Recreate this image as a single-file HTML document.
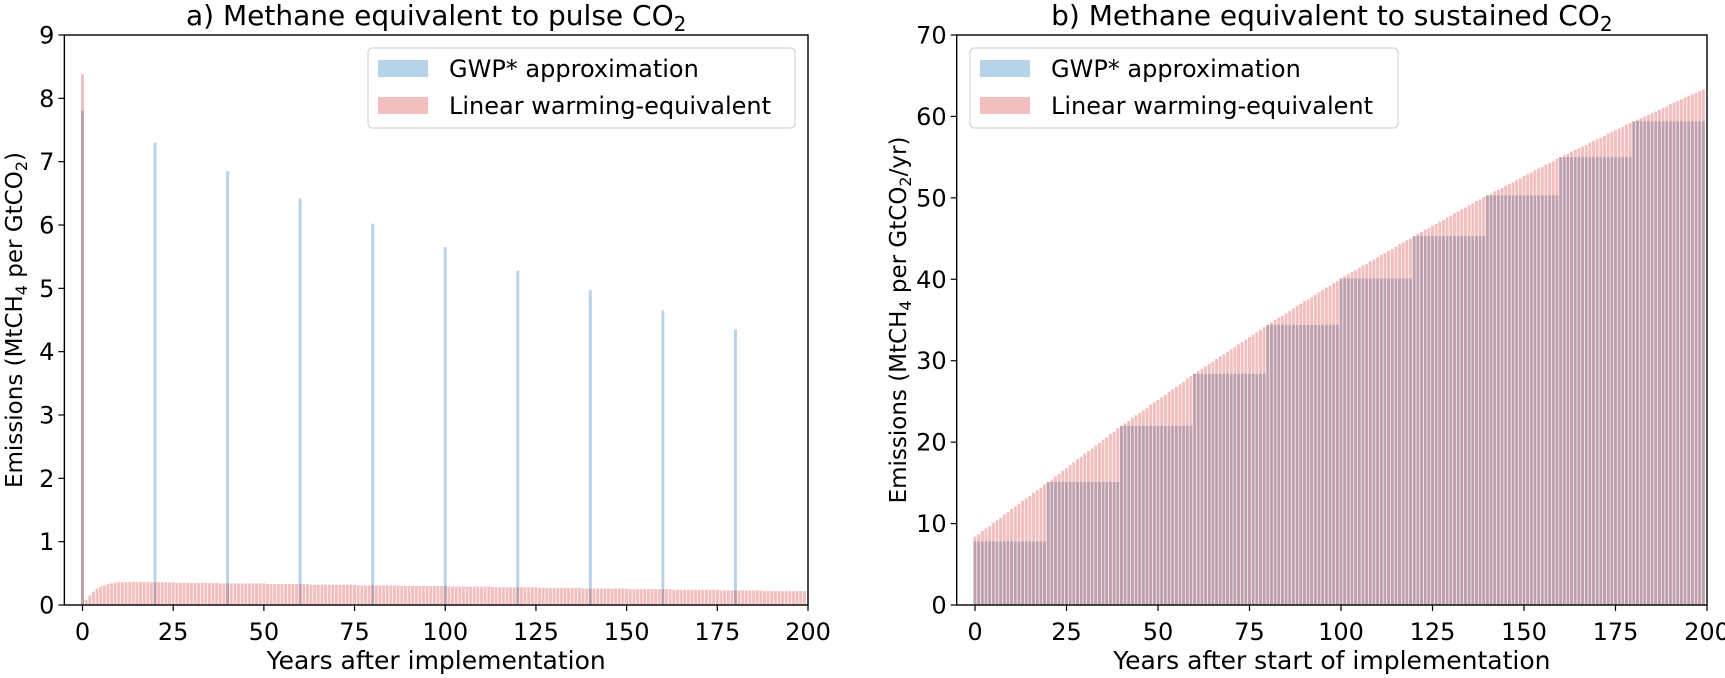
<!DOCTYPE html>
<html><head><meta charset="utf-8"><style>
html,body{margin:0;padding:0;background:#fff;}
svg{display:block;font-family:"DejaVu Sans","Liberation Sans",sans-serif;}
</style></head><body>
<svg id="chart" width="1725" height="678" viewBox="0 0 1725 678" xmlns="http://www.w3.org/2000/svg">
<g id="pa"></g>
<g id="pb"></g>
</svg>
<script>
// Panel a data
const pulseYearsA = [0,20,40,60,80,100,120,140,160,180];
const gwpPulseA = [7.8,7.3,6.85,6.42,6.02,5.65,5.28,4.97,4.65,4.35];
const linearA = [8.38,0.08,0.15,0.21,0.26,0.29,0.31,0.33,0.34,0.35,
0.36,0.36,0.36,0.36,0.36,0.36,0.36,0.36,0.36,0.36,0.36,0.36,0.36,0.36,0.36,0.36,
0.35,0.35,0.35,0.35,0.35,0.35,0.35,0.35,0.35,0.35,0.35,0.35,
0.34,0.34,0.34,0.34,0.34,0.34,0.34,0.34,0.34,0.34,0.34,0.34,0.34,
0.33,0.33,0.33,0.33,0.33,0.33,0.33,0.33,0.33,0.33,0.33,0.33,
0.32,0.32,0.32,0.32,0.32,0.32,0.32,0.32,0.32,0.32,0.32,0.32,0.32,
0.31,0.31,0.31,0.31,0.31,0.31,0.31,0.31,0.31,0.31,0.31,0.31,
0.30,0.30,0.30,0.30,0.30,0.30,0.30,0.30,0.30,0.30,0.30,0.30,0.30,
0.29,0.29,0.29,0.29,0.29,0.29,0.29,0.29,0.29,0.29,0.29,0.29,
0.28,0.28,0.28,0.28,0.28,0.28,0.28,0.28,0.28,0.28,0.28,0.28,0.28,
0.27,0.27,0.27,0.27,0.27,0.27,0.27,0.27,0.27,0.27,0.27,0.27,
0.26,0.26,0.26,0.26,0.26,0.26,0.26,0.26,0.26,0.26,0.26,0.26,0.26,
0.25,0.25,0.25,0.25,0.25,0.25,0.25,0.25,0.25,0.25,0.25,0.25,
0.24,0.24,0.24,0.24,0.24,0.24,0.24,0.24,0.24,0.24,0.24,0.24,0.24,
0.23,0.23,0.23,0.23,0.23,0.23,0.23,0.23,0.23,0.23,0.23,0.23,
0.22,0.22,0.22,0.22,0.22,0.22,0.22,0.22,0.22,0.22,0.22,0.22];
const yTicksA = [0,1,2,3,4,5,6,7,8,9];
// Panel b data
const gwpStepsB = [7.8,15.1,22.0,28.4,34.4,40.1,45.3,50.3,55.0,59.4];
const linearB = [8.4,8.7,9.1,9.4,9.7,10.1,10.4,10.7,11.1,11.4,11.8,12.1,12.4,12.8,13.1,13.4,13.8,14.1,14.4,14.8,
15.1,15.4,15.8,16.1,16.5,16.8,17.2,17.5,17.9,18.2,18.6,18.9,19.2,19.6,19.9,20.3,20.6,21.0,21.3,21.7,
22.0,22.3,22.6,23.0,23.3,23.6,23.9,24.2,24.6,24.9,25.2,25.5,25.8,26.2,26.5,26.8,27.1,27.4,27.8,28.1,
28.4,28.7,29.0,29.3,29.6,29.9,30.2,30.5,30.8,31.1,31.4,31.7,32.0,32.3,32.6,32.9,33.2,33.5,33.8,34.1,
34.4,34.7,35.0,35.3,35.5,35.8,36.1,36.4,36.7,37.0,37.3,37.5,37.8,38.1,38.4,38.7,39.0,39.2,39.5,39.8,
40.1,40.4,40.6,40.9,41.1,41.4,41.7,41.9,42.2,42.4,42.7,43.0,43.2,43.5,43.7,44.0,44.3,44.5,44.8,45.0,
45.3,45.6,45.8,46.1,46.3,46.6,46.8,47.1,47.3,47.6,47.8,48.1,48.3,48.6,48.8,49.1,49.3,49.6,49.8,50.1,
50.3,50.5,50.8,51.0,51.2,51.5,51.7,51.9,52.2,52.4,52.7,52.9,53.1,53.4,53.6,53.8,54.1,54.3,54.5,54.8,
55.0,55.2,55.4,55.7,55.9,56.1,56.3,56.5,56.8,57.0,57.2,57.4,57.6,57.9,58.1,58.3,58.5,58.7,59.0,59.2,
59.4,59.6,59.8,60.0,60.2,60.4,60.6,60.8,61.0,61.2,61.5,61.7,61.9,62.1,62.3,62.5,62.7,62.9,63.1,63.3];
const yTicksB = [0,10,20,30,40,50,60,70];
const xTicks = [0,25,50,75,100,125,150,175,200];

const NS="http://www.w3.org/2000/svg";
function mk(parent,tag,attrs,text){const e=document.createElementNS(NS,tag);for(const k in attrs)e.setAttribute(k,attrs[k]);if(text!==undefined)e.textContent=text;parent.appendChild(e);return e;}
const BLUE="rgba(31,119,180,0.32)", RED="rgba(214,39,40,0.3)";
const TOP=35,BOT=605;

function panel(g,o){
  const xs=v=>o.x0+(v)*(o.x200-o.x0)/200;
  const ys=v=>BOT-(v/o.ymax)*(BOT-TOP);
  const left=xs(-5), right=xs(200);
  const bars=mk(g,'g',{});
  
  
  o.blue.forEach(([yr,v])=>{
    const r=mk(bars,'rect',{x:xs(yr-0.4),y:ys(v),width:xs(0.8)-xs(0),height:BOT-ys(v),fill:BLUE});
    
    
  });
  o.red.forEach((v,yr)=>{
    const r=mk(bars,'rect',{x:xs(yr-0.4),y:ys(v),width:xs(0.8)-xs(0),height:BOT-ys(v),fill:RED});
    
    
  });
  const fr=mk(g,'rect',{x:left,y:TOP,width:right-left,height:BOT-TOP,fill:'none',stroke:'#000','stroke-width':1.4});
  
  
  xTicks.forEach(t=>{
    const x=xs(t);
    mk(g,'line',{x1:x,x2:x,y1:BOT,y2:BOT+6,stroke:'#000','stroke-width':1.2});
    const l=mk(g,'text',{x:x,y:640,'text-anchor':'middle','font-size':24,fill:'#000'},String(t));
    
    
  });
  o.yt.forEach(t=>{
    const y=ys(t);
    mk(g,'line',{x1:left-6,x2:left,y1:y,y2:y,stroke:'#000','stroke-width':1.2});
    const l=mk(g,'text',{x:left-10,y:y+8.5,'text-anchor':'end','font-size':24,fill:'#000'},String(t));
    
    
  });
  const xl=mk(g,'text',{x:(left+right)/2,y:669,'text-anchor':'middle','font-size':25},o.xlabel);
  
  
  const yl=mk(g,'text',{x:0,y:0,'text-anchor':'middle','font-size':23,transform:`translate(${o.ylx},${(TOP+BOT)/2}) rotate(-90)`});
  yl.innerHTML=o.ylabel;
  
  
  const ti=mk(g,'text',{x:(left+right)/2,y:25,'text-anchor':'middle','font-size':28});
  ti.innerHTML=o.title;
  
  
  const lg=mk(g,'g',{});
  
  
  mk(lg,'rect',{x:o.lx,y:48,width:o.lw,height:80,rx:4,fill:'#fff','fill-opacity':0.85,stroke:'#ccc','stroke-width':1});
  const e1=mk(lg,'g',{});
  
  
  mk(e1,'rect',{x:o.lx+10,y:60,width:50,height:17,fill:BLUE});
  mk(e1,'text',{x:o.lx+81,y:77,'font-size':24},'GWP* approximation');
  const e2=mk(lg,'g',{});
  
  
  mk(e2,'rect',{x:o.lx+10,y:97,width:50,height:17,fill:RED});
  mk(e2,'text',{x:o.lx+81,y:114,'font-size':24},'Linear warming-equivalent');
}

panel(document.getElementById('pa'),{
  x0:82.5,x200:808,ymax:9,yt:yTicksA,
  blue:pulseYearsA.map((yr,i)=>[yr,gwpPulseA[i]]),
  red:linearA,
  xlabel:'Years after implementation',
  ylabel:'Emissions (MtCH<tspan font-size="16" dy="5">4</tspan><tspan dy="-5"> per GtCO</tspan><tspan font-size="16" dy="5">2</tspan><tspan dy="-5">)</tspan>',
  ylx:22,
  title:'a) Methane equivalent to pulse CO<tspan font-size="20" dy="6">2</tspan>',
  lx:368,lw:427
});
const blueB=[];
gwpStepsB.forEach((v,i)=>{for(let k=0;k<20;k++)blueB.push([i*20+k,v]);});
panel(document.getElementById('pb'),{
  x0:975,x200:1707,ymax:70,yt:yTicksB,
  blue:blueB,
  red:linearB,
  xlabel:'Years after start of implementation',
  ylabel:'Emissions (MtCH<tspan font-size="16" dy="5">4</tspan><tspan dy="-5"> per GtCO</tspan><tspan font-size="16" dy="5">2</tspan><tspan dy="-5">/yr)</tspan>',
  ylx:906,
  title:'b) Methane equivalent to sustained CO<tspan font-size="20" dy="6">2</tspan>',
  lx:970,lw:428
});
</script>
</body></html>
